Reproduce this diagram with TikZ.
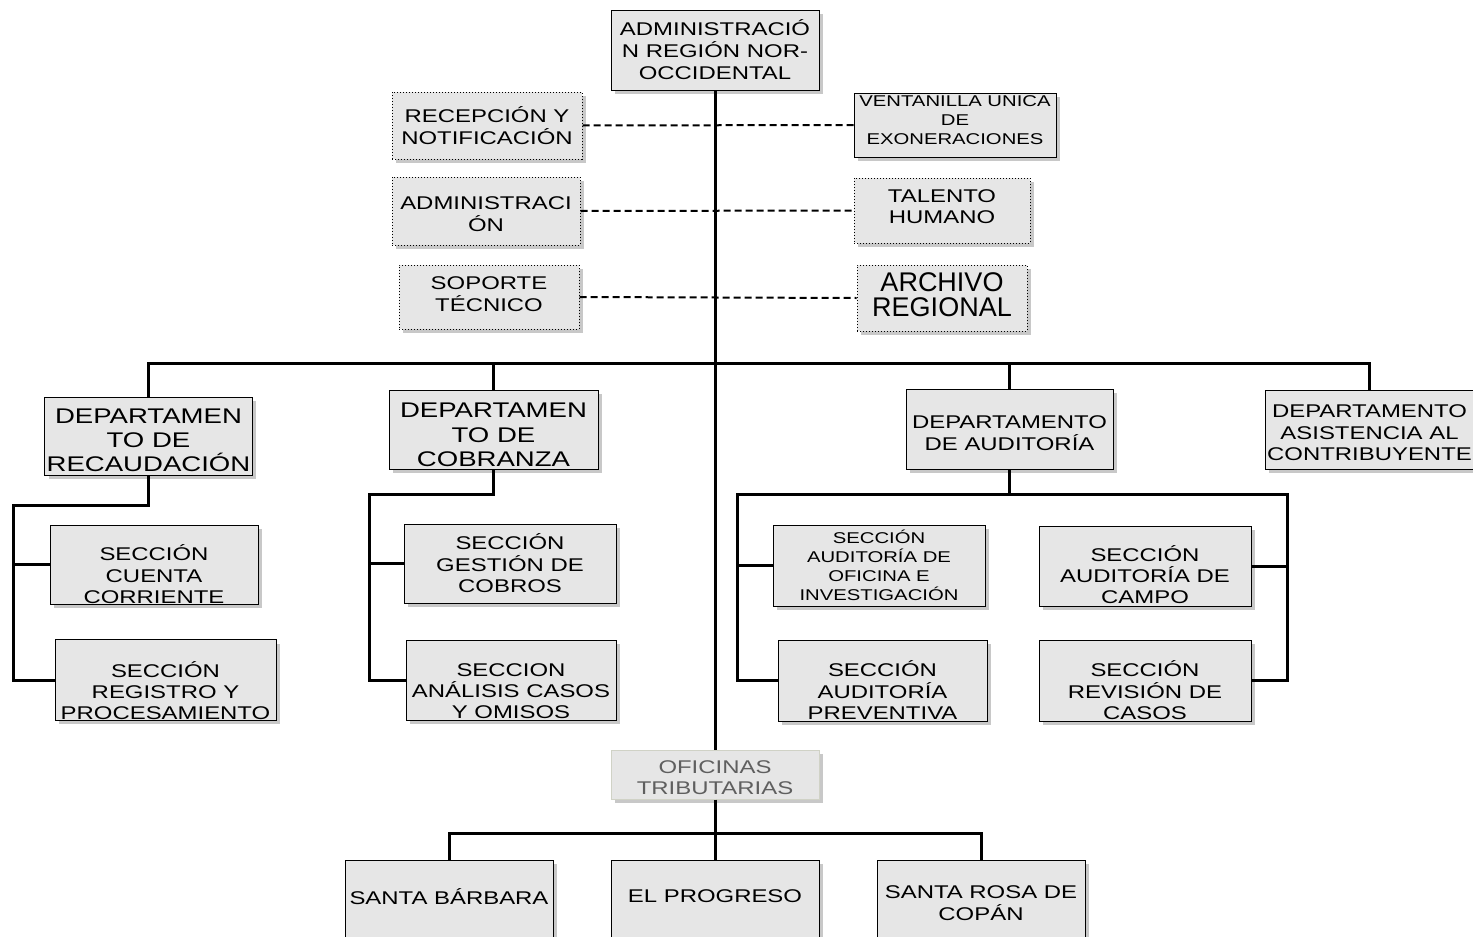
\documentclass[tikz,border=0pt]{standalone}
\usepackage{fontspec}
\newfontfamily\orgfont[FakeStretch=1.3]{Liberation Sans}
\newfontfamily\orgplain{Liberation Sans}
\usepackage{tikz}
\usetikzlibrary{shadows}
\definecolor{boxgray}{RGB}{230,230,230}
\definecolor{shadowgray}{RGB}{200,200,200}
\definecolor{ofiline}{RGB}{208,210,198}
\definecolor{ofitext}{RGB}{95,95,95}
\newcommand\sinkby[1]{\rule{0pt}{#1}}

\begin{document}
\begin{tikzpicture}[x=0.5pt,y=-0.5pt,
  unit/.style={draw, line width=0.5pt, fill=boxgray, inner xsep=1pt, inner ysep=0pt, align=center,
    drop shadow={shadow xshift=2pt, shadow yshift=-2pt, fill=shadowgray, opacity=1},
    font=\orgfont\fontsize{9.2}{10.7}\selectfont},
  staff/.style={unit, densely dotted},
  bigtext/.style={font=\orgfont\fontsize{10.6}{12.2}\selectfont},
  smalltext/.style={font=\orgfont\fontsize{7.8}{9.4}\selectfont},
  lift/.style={execute at end node={\rule[-#1]{0pt}{0pt}}},
  link/.style={line width=1.5pt},
  dashlink/.style={line width=1pt, dash pattern=on 3.5pt off 2pt}]
\useasboundingbox (0,0) rectangle (1473,937);

\node[unit, minimum width=104pt, minimum height=40pt, font=\orgfont\fontsize{9.2}{11}\selectfont] (top) at (715,50) {ADMINISTRACIÓ\\N REGIÓN NOR-\\OCCIDENTAL};

\node[staff, minimum width=95pt, minimum height=33.5pt] (rec) at (487,125.5) {RECEPCIÓN Y\\NOTIFICACIÓN};
\node[staff, minimum width=94pt, minimum height=34pt] (adm) at (486,211) {\sinkby{9.6pt}ADMINISTRACI\\ÓN};
\node[staff, lift=3pt, minimum width=90pt, minimum height=32pt] (sop) at (489,297) {SOPORTE\\TÉCNICO};
\node[unit, smalltext, lift=5pt, minimum width=101pt, minimum height=32pt] (ven) at (955,125) {VENTANILLA UNICA\\DE\\EXONERACIONES};
\node[staff, lift=4pt, minimum width=88pt, minimum height=32.5pt] (tal) at (942,210.5) {TALENTO\\HUMANO};
\node[staff, lift=3pt, minimum width=85pt, minimum height=33pt, font=\orgplain\fontsize{13.5}{12.5}\selectfont] (arc) at (942,298) {ARCHIVO\\REGIONAL};

\node[unit, bigtext, minimum width=103.5pt, minimum height=39pt] (drec) at (148.5,436) {\sinkby{11.6pt}DEPARTAMEN\\TO DE\\RECAUDACIÓN};
\node[unit, bigtext, minimum width=104.5pt, minimum height=39.5pt] (dcob) at (493.5,429.5) {\sinkby{12.6pt}DEPARTAMEN\\TO DE\\COBRANZA};
\node[unit, minimum width=103.5pt, minimum height=40pt] (daud) at (1009.5,429) {\sinkby{10.6pt}DEPARTAMENTO\\DE AUDITORÍA};
\node[unit, minimum width=103.5pt, minimum height=39.5pt] (dasi) at (1369.5,429.5) {\sinkby{9.6pt}DEPARTAMENTO\\ASISTENCIA AL\\CONTRIBUYENTE};

\node[unit, minimum width=104pt, minimum height=39.5pt] (scc) at (154,564.5) {\sinkby{17.6pt}SECCIÓN\\CUENTA\\CORRIENTE};
\node[unit, minimum width=110.5pt, minimum height=40pt] (srp) at (165.5,680) {\sinkby{18.6pt}SECCIÓN\\REGISTRO Y\\PROCESAMIENTO};
\node[unit, minimum width=106pt, minimum height=39.5pt] (sgc) at (510,563.5) {SECCIÓN\\GESTIÓN DE\\COBROS};
\node[unit, minimum width=105pt, minimum height=40pt] (sac) at (511,680) {\sinkby{17.6pt}SECCION\\ANÁLISIS CASOS\\Y OMISOS};
\node[unit, smalltext, minimum width=106pt, minimum height=40.5pt] (sao) at (879,565.5) {SECCIÓN\\AUDITORÍA DE\\OFICINA E\\INVESTIGACIÓN};
\node[unit, minimum width=106pt, minimum height=40pt] (sca) at (1145,566) {\sinkby{16.6pt}SECCIÓN\\AUDITORÍA DE\\CAMPO};
\node[unit, minimum width=104.5pt, minimum height=40.5pt] (sap) at (882.5,680.5) {\sinkby{17.6pt}SECCIÓN\\AUDITORÍA\\PREVENTIVA};
\node[unit, minimum width=106pt, minimum height=40.5pt] (srv) at (1145,680.5) {\sinkby{17.6pt}SECCIÓN\\REVISIÓN DE\\CASOS};

\node[unit, draw=ofiline, text=ofitext, minimum width=104pt, minimum height=24.5pt] (ofi) at (715,774.5) {\sinkby{9.6pt}OFICINAS\\TRIBUTARIAS};

\node[unit, lift=2pt, minimum width=104pt, minimum height=39pt] (ssb) at (449,899) {SANTA BÁRBARA};
\node[unit, lift=3pt, minimum width=104pt, minimum height=39pt] (sep) at (715,899) {EL PROGRESO};
\node[unit, minimum width=104pt, minimum height=39pt] (srs) at (981,899) {\sinkby{10.6pt}SANTA ROSA DE\\COPÁN};

\coordinate (bus) at (715,363);
\coordinate (rtrunk) at (13,505);
\coordinate (ctrunk) at (369,494);
\coordinate (aL) at (737,494);
\coordinate (aR) at (1287,494);
\coordinate (obus) at (715,833);

\draw[dashlink] (rec.east) -- (ven.west);
\draw[dashlink] (adm.east) -- (tal.west);
\draw[dashlink] (sop.east) -- (arc.west);

\draw[link] (top.south) -- (ofi.north);
\draw[link] (ofi.south) -- (sep.north);
\draw[link] (drec.north) |- (bus) -| (dasi.north);
\draw[link] (dcob.north) -- (dcob.north |- bus);
\draw[link] (daud.north) -- (daud.north |- bus);

\draw[link] (drec.south) |- (rtrunk) |- (srp.west);
\draw[link] (rtrunk |- scc.west) -- (scc.west);
\draw[link] (dcob.south) |- (ctrunk) |- (sac.west);
\draw[link] (ctrunk |- sgc.west) -- (sgc.west);
\draw[link] (daud.south) -- (daud.south |- aL);
\draw[link] (sap.west) -| (aL) -- (aR) |- (srv.east);
\draw[link] (aL |- sao.west) -- (sao.west);
\draw[link] (aR |- sca.east) -- (sca.east);

\draw[link] (ssb.north) |- (obus) -| (srs.north);
\end{tikzpicture}
\end{document}
